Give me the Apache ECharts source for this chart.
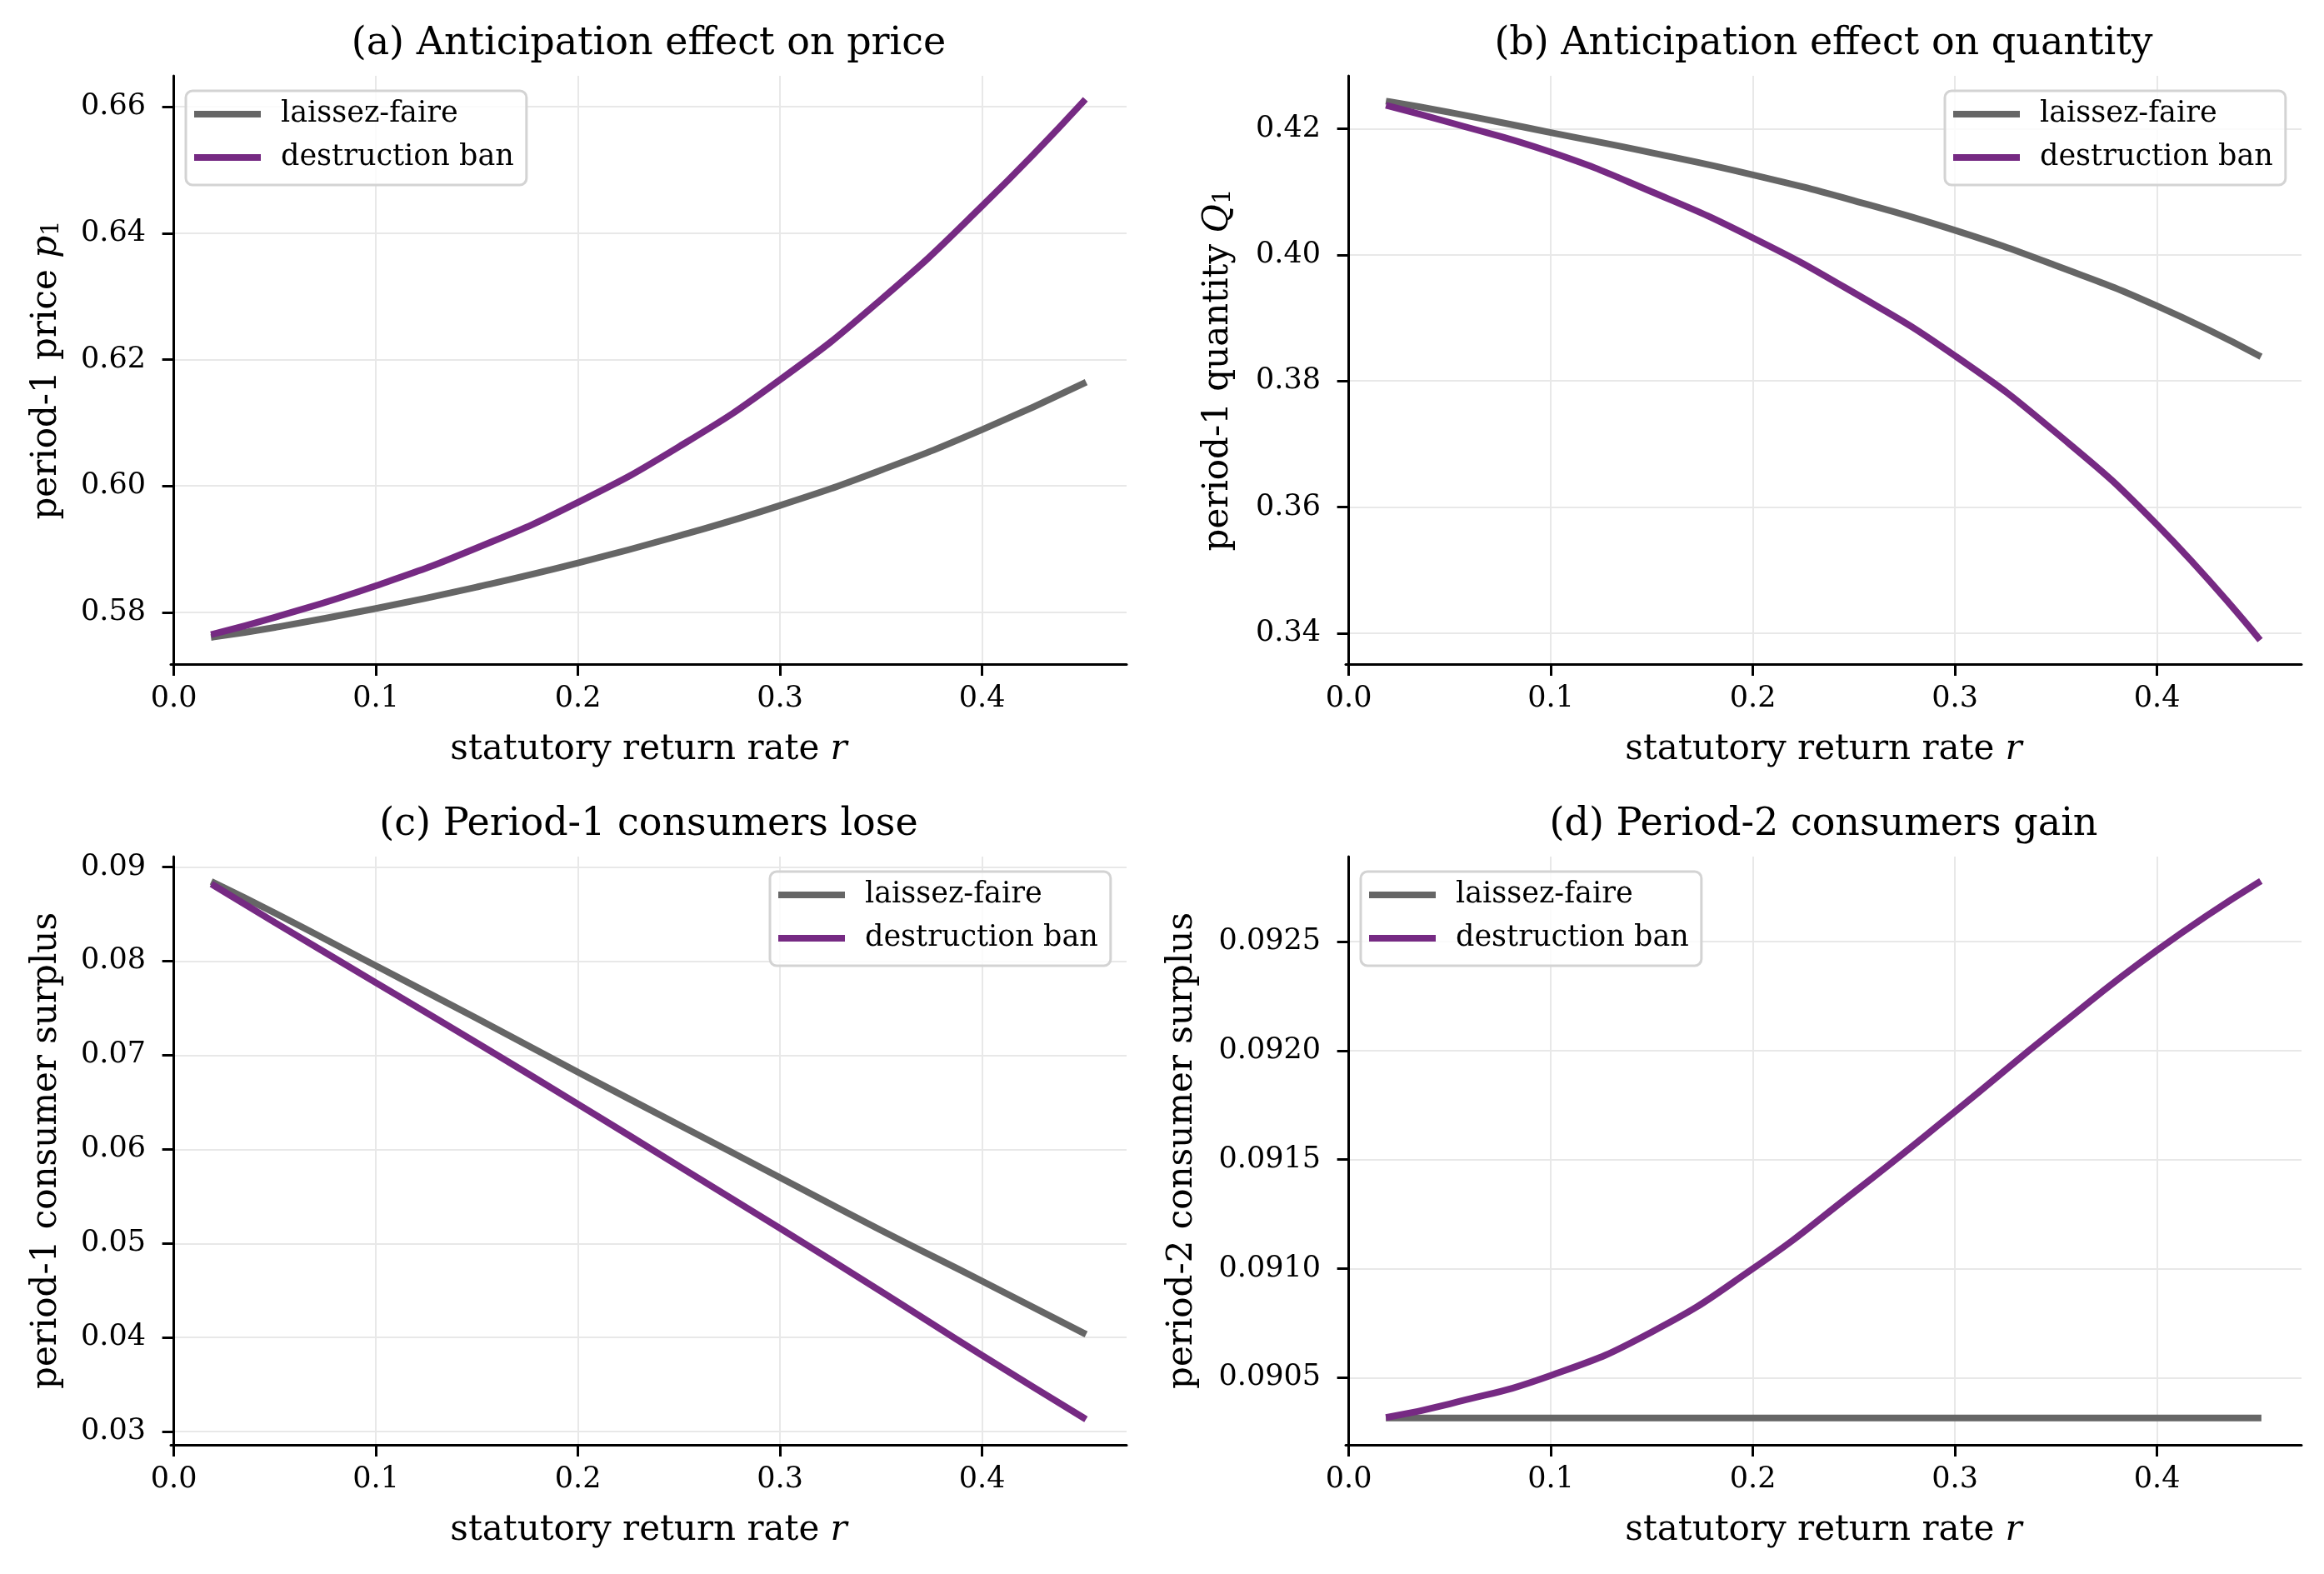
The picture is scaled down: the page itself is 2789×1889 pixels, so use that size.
<!DOCTYPE html>
<html>
<head>
<meta charset="utf-8">
<script src="https://cdn.jsdelivr.net/npm/echarts@6/dist/echarts.min.js"></script>
<style>
  html, body { margin: 0; padding: 0; background: #fff; }
  #main { width: 2789px; height: 1889px; }
</style>
</head>
<body>
<div id="main"></div>
<script>
// statutory return rate r (x values shared by all panels)
const rValues = [0.02, 0.05, 0.10, 0.15, 0.20, 0.25, 0.30, 0.35, 0.40, 0.45];

// (a) period-1 price p1
const priceLaissez = [0.5761, 0.5776, 0.5806, 0.5840, 0.5878, 0.5921, 0.5969, 0.6025, 0.6089, 0.6162];
const priceBan     = [0.5766, 0.5792, 0.5842, 0.5902, 0.5974, 0.6062, 0.6168, 0.6295, 0.6443, 0.6608];

// (b) period-1 quantity Q1
const qtyLaissez = [0.4243, 0.4226, 0.4194, 0.4162, 0.4127, 0.4086, 0.4039, 0.3983, 0.3919, 0.3841];
const qtyBan     = [0.4236, 0.4210, 0.4163, 0.4100, 0.4027, 0.3940, 0.3840, 0.3718, 0.3572, 0.3393];

// (c) period-1 consumer surplus
const cs1Laissez = [0.0883, 0.0851, 0.0795, 0.0739, 0.0682, 0.0626, 0.0570, 0.0514, 0.0460, 0.0405];
const cs1Ban     = [0.0880, 0.0841, 0.0777, 0.0713, 0.0648, 0.0582, 0.0516, 0.0449, 0.0381, 0.0315];

// (d) period-2 consumer surplus
const cs2Laissez = [0.090315, 0.090315, 0.090315, 0.090315, 0.090315, 0.090315, 0.090315, 0.090315, 0.090315, 0.090315];
const cs2Ban     = [0.09032, 0.09038, 0.09051, 0.09071, 0.09100, 0.09135, 0.09172, 0.09210, 0.09246, 0.09277];

// tick labels
const xTicks = [0.0, 0.1, 0.2, 0.3, 0.4];
const yTicksA = [0.58, 0.60, 0.62, 0.64, 0.66];
const yTicksB = [0.34, 0.36, 0.38, 0.40, 0.42];
const yTicksC = [0.03, 0.04, 0.05, 0.06, 0.07, 0.08, 0.09];
const yTicksD = [0.0905, 0.0910, 0.0915, 0.0920, 0.0925];

const titles = [
  "(a) Anticipation effect on price",
  "(b) Anticipation effect on quantity",
  "(c) Period-1 consumers lose",
  "(d) Period-2 consumers gain",
];
const seriesNames = ["laissez-faire", "destruction ban"];

const FONT = "DejaVu Serif";
const GRAY = "#666666";
const PURPLE = "#762a83";
const GRID_COLOR = "#e8e8e8";

const grids = [
  { left: 205, top: 91, width: 1147, height: 706 },
  { left: 1615, top: 91, width: 1147, height: 706 },
  { left: 205, top: 1028, width: 1147, height: 706 },
  { left: 1615, top: 1028, width: 1147, height: 706 },
];

const panels = [
  { yMin: 0.5718, yMax: 0.6649, ticks: yTicksA, dec: 2, gap: 128, name: "period-1 price {i|p}{s|1}", data: [priceLaissez, priceBan] },
  { yMin: 0.3351, yMax: 0.4284, ticks: yTicksB, dec: 2, gap: 132, name: "period-1 quantity {i|Q}{s|1}", data: [qtyLaissez, qtyBan] },
  { yMin: 0.0286, yMax: 0.0911, ticks: yTicksC, dec: 2, gap: 128, name: "period-1 consumer surplus", data: [cs1Laissez, cs1Ban] },
  { yMin: 0.090192, yMax: 0.092890, ticks: yTicksD, dec: 4, gap: 175, name: "period-2 consumer surplus", data: [cs2Laissez, cs2Ban] },
];

const legendPos = [
  { left: 223, top: 109 },
  { left: 2334, top: 109 },
  { left: 924, top: 1046 },
  { left: 1633, top: 1046 },
];

const axisLine = { lineStyle: { color: "#000", width: 3 } };
const tickStyle = { length: 14, lineStyle: { color: "#000", width: 3 } };
const splitLine = { show: true, lineStyle: { color: GRID_COLOR, width: 2 } };
const labelFont = { fontFamily: FONT, fontSize: 35, color: "#000" };
const nameFont = {
  fontFamily: FONT, fontSize: 42, color: "#000",
  rich: {
    i: { fontFamily: FONT, fontSize: 42, fontStyle: "italic", color: "#000" },
    s: { fontFamily: FONT, fontSize: 29, color: "#000", verticalAlign: "bottom", lineHeight: 29 },
  },
};

const xAxis = grids.map((g, i) => ({
  gridIndex: i,
  type: "value",
  min: -0.0015,
  max: 0.4715,
  name: "statutory return rate {i|r}",
  nameLocation: "middle",
  nameGap: 82,
  nameTextStyle: nameFont,
  axisLine,
  axisTick: { ...tickStyle, customValues: xTicks },
  axisLabel: { ...labelFont, margin: 24, customValues: xTicks, formatter: (v) => v.toFixed(1) },
  splitLine,
}));

const yAxis = panels.map((p, i) => ({
  gridIndex: i,
  type: "value",
  min: p.yMin,
  max: p.yMax,
  name: p.name,
  nameLocation: "middle",
  nameGap: p.gap,
  nameTextStyle: nameFont,
  axisLine: { show: true, ...axisLine },
  axisTick: { show: true, ...tickStyle, customValues: p.ticks },
  axisLabel: { ...labelFont, margin: 30, customValues: p.ticks, formatter: (v) => v.toFixed(p.dec) },
  splitLine,
}));

const series = [];
panels.forEach((p, i) => {
  [GRAY, PURPLE].forEach((color, k) => {
    series.push({
      name: seriesNames[k],
      type: "line",
      xAxisIndex: i,
      yAxisIndex: i,
      symbol: "none",
      smooth: true,
      color,
      lineStyle: { color, width: 8, cap: "square" },
      data: rValues.map((r, j) => [r, p.data[k][j]]),
    });
  });
});

const legend = legendPos.map((pos) => ({
  ...pos,
  orient: "vertical",
  data: seriesNames,
  icon: "rect",
  itemWidth: 80,
  itemHeight: 8,
  itemGap: 12,
  selectedMode: false,
  padding: [8, 15, 13, 10],
  backgroundColor: "rgba(255,255,255,0.8)",
  borderColor: "#d3d3d3",
  borderWidth: 3,
  borderRadius: 8,
  textStyle: { fontFamily: FONT, fontSize: 35, color: "#000", lineHeight: 40, padding: [0, 0, 0, 19] },
}));

const graphic = grids.map((g, i) => ({
  type: "text",
  x: g.left + g.width / 2,
  y: g.top - 38,
  style: {
    text: titles[i],
    fontFamily: FONT,
    fontSize: 46,
    fill: "#000",
    align: "center",
    verticalAlign: "middle",
    textAlign: "center",
    textVerticalAlign: "middle",
  },
}));

const chart = echarts.init(document.getElementById("main"));
chart.setOption({
  animation: false,
  backgroundColor: "#fff",
  grid: grids,
  xAxis,
  yAxis,
  legend,
  graphic,
  series,
});
</script>
</body>
</html>
